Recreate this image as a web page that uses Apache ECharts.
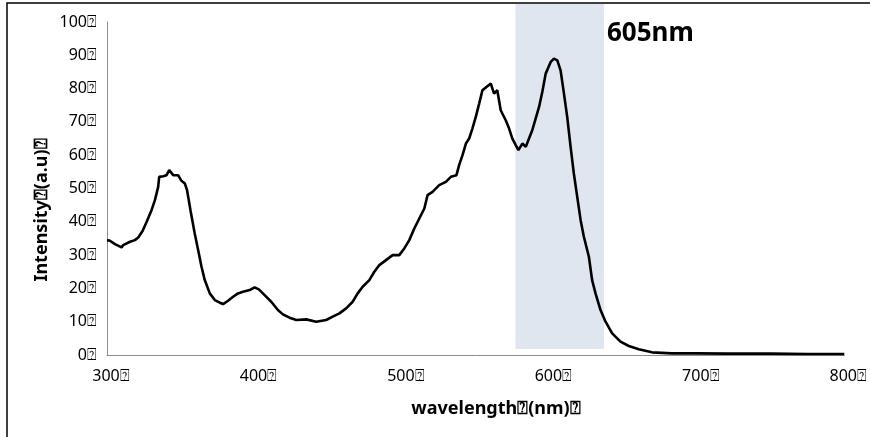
<!DOCTYPE html>
<html><head><meta charset="utf-8">
<script src="https://cdn.jsdelivr.net/npm/echarts@6/dist/echarts.min.js"></script>
<style>html,body{margin:0;padding:0;background:#fff}#c{width:870px;height:437px}</style>
</head><body><div id="c"></div>
<script>
const wavelength = [300,302,305.4,309.9,311,315.6,318.9,321.2,324.2,326.9,330.2,332.5,334.7,335.4,338.1,340.4,342.2,344.9,348.2,350.5,352.8,354.3,356.6,359.5,361.8,364.1,366.3,369.7,373.1,376.5,378.7,382.1,385.5,388.8,392.2,396.8,400.1,403,406.9,411.4,415.9,419.3,423.8,428.4,435.1,441.9,448.6,453.1,457.6,462.2,466.6,470,473.4,477.9,481.3,484.7,489.2,493.7,498.2,501.6,505,508.4,511.8,515.2,517.4,520.8,525.3,529.8,533.2,537,538.8,541.1,543.4,545.6,547.8,550.1,552.4,554.6,557.3,560.3,562.5,564.7,567,570.4,572.7,574.9,577.2,579,581.7,584,586.2,588.4,590.7,593,595.2,597.5,600.9,603.1,605.4,607.6,609.9,612.1,614.4,616.6,618.9,621.2,623.4,626.8,629,631.3,634.7,638.1,642.6,648.2,653.9,660.6,669.6,683.1,699,720,750,775,800];
const intensity = [34.5,34.3,33.3,32.3,33,34,34.5,35.3,37.3,40,43.5,46.5,50.5,53.5,53.7,54,55.5,54,54,52.3,51.5,49.5,43.5,36.5,31.5,26.5,22.5,18.5,16.5,15.7,15.3,16.3,17.5,18.5,19,19.5,20.3,19.7,18,16,13.5,12.2,11.2,10.5,10.7,10,10.5,11.5,12.5,14,16,18.5,20.5,22.5,25,27,28.5,30,30,32,34.5,38,41,44,48,49,51,52,53.5,54,57,60,63.5,65,68,71.5,75.5,79.5,80.5,81.5,78.5,79.5,73.5,70.5,68,65,63,61.5,63.5,62.5,65,67.5,71,74.5,79,84.5,88,89,88.5,85.5,78.5,71.5,62.5,54.5,47.5,40.5,35.5,29.5,22.5,18.5,13.5,10,6.5,4,2.7,1.7,0.8,0.5,0.5,0.4,0.4,0.3,0.3];
const bandRange = [577, 637];
const bandLabel = '605nm';
const xTicks = [300,400,500,600,700,800];
const yTicks = [0,10,20,30,40,50,60,70,80,90,100];
const xTitle = 'wavelength\u2370(nm)\u2370';
const yTitle = 'Intensity\u2370(a.u)\u2370';

const chart = echarts.init(document.getElementById('c'), null, {renderer:'canvas'});
const font = '"Noto Sans", "DejaVu Sans", sans-serif';
chart.setOption({
  animation:false,
  backgroundColor:'#fff',
  grid:{left:107,right:24,top:22,bottom:82},
  xAxis:{type:'value',min:xTicks[0],max:xTicks[xTicks.length-1],interval:100,
    axisLine:{show:true,lineStyle:{color:'#8c8c8c',width:1}},
    axisTick:{show:false},splitLine:{show:false},
    axisLabel:{margin:13,color:'#000',fontSize:16,fontFamily:font,padding:[0,0,0,8],formatter:v=>v+'\u2370'}},
  yAxis:{type:'value',min:yTicks[0],max:yTicks[yTicks.length-1],interval:10,
    axisLine:{show:true,lineStyle:{color:'#8c8c8c',width:1}},
    axisTick:{show:false},splitLine:{show:false},
    axisLabel:{margin:10,color:'#000',fontSize:16,fontFamily:font,padding:[4,0,0,0],formatter:v=>v+'\u2370'}},
  series:[{type:'line',data:wavelength.map((w,i)=>[w,intensity[i]]),showSymbol:false,
    lineStyle:{color:'#000',width:2.6},z:3,
    markArea:{silent:true,itemStyle:{color:'#dfe6f0'},
      data:[[{xAxis:bandRange[0],y:4},{xAxis:bandRange[1],y:349}]]}}],
  graphic:[
    {type:'rect',shape:{x:7,y:3,width:900,height:500},style:{fill:'none',stroke:'#000',lineWidth:1.5},z:10},
    {type:'text',left:607,top:21,style:{text:bandLabel,font:'bold 26px '+font,fill:'#000'}},
    {type:'text',x:496,y:409,style:{text:xTitle,font:'bold 18px '+font,fill:'#000',align:'center',verticalAlign:'middle'}},
    {type:'text',x:42,y:210,rotation:Math.PI/2,style:{text:yTitle,font:'bold 18px '+font,fill:'#000',align:'center',verticalAlign:'middle'}}
  ]
});
</script></body></html>
